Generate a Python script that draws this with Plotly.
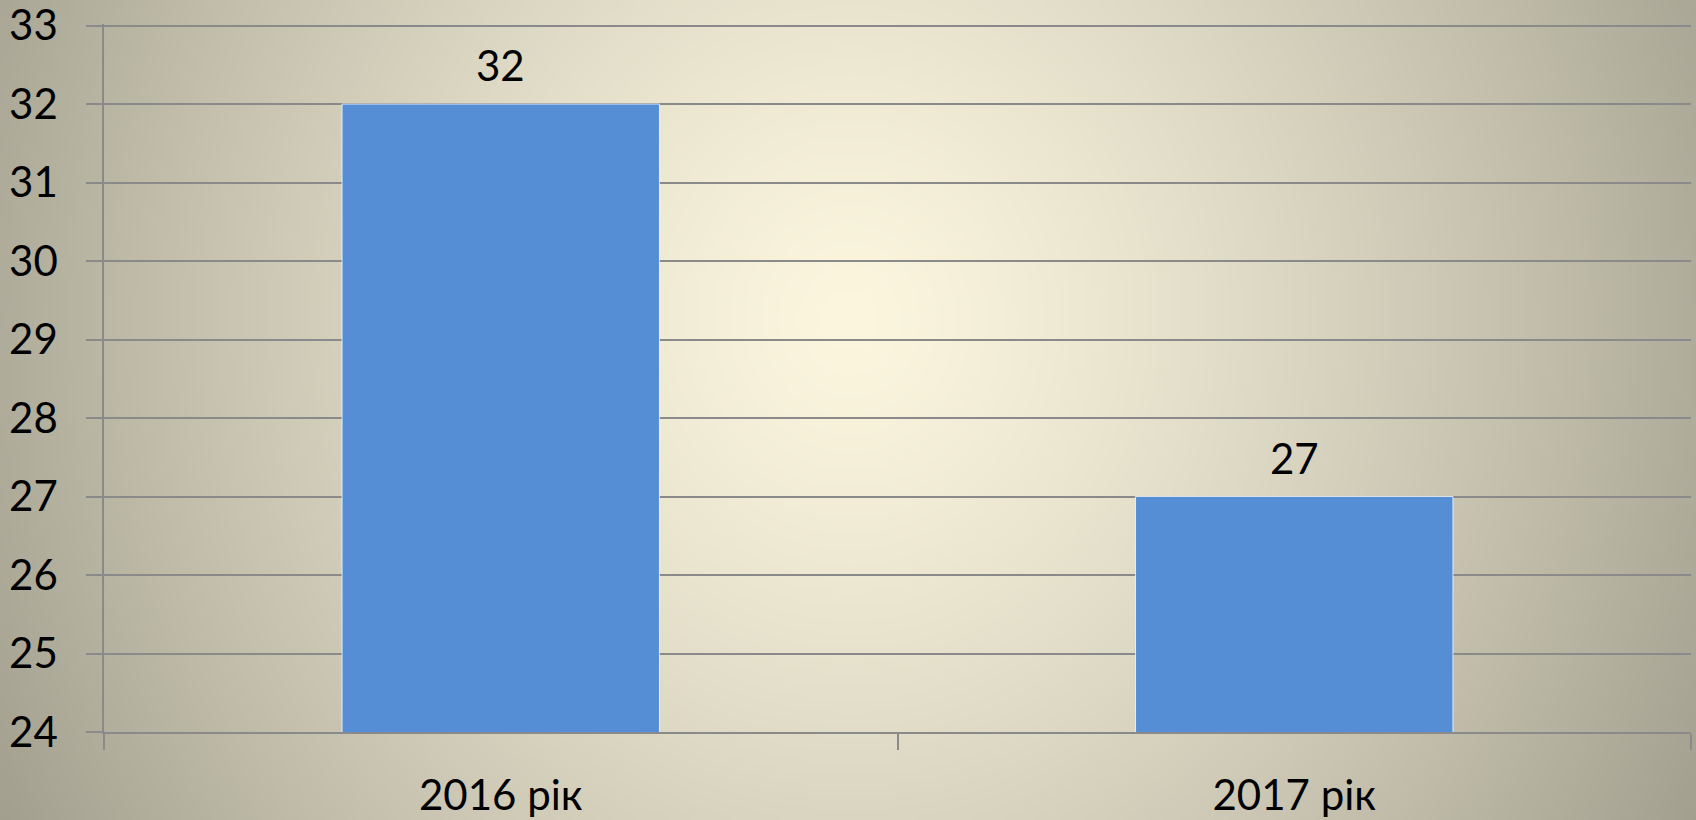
import base64, struct, zlib
import numpy as np
import plotly.graph_objects as go

# ---- data ----
categories = ["2016 рік", "2017 рік"]
values = [32, 27]
y_ticks = [24, 25, 26, 27, 28, 29, 30, 31, 32, 33]

W, H = 1696, 820

# ---- background radial gradient (decorative) ----
def make_png(arr):
    h, w, _ = arr.shape
    raw = b"".join(b"\x00" + arr[i].tobytes() for i in range(h))
    def chunk(tag, data):
        c = struct.pack(">I", len(data)) + tag + data
        return c + struct.pack(">I", zlib.crc32(tag + data) & 0xffffffff)
    png = b"\x89PNG\r\n\x1a\n"
    png += chunk(b"IHDR", struct.pack(">IIBBBBB", w, h, 8, 2, 0, 0, 0))
    png += chunk(b"IDAT", zlib.compress(raw, 9))
    png += chunk(b"IEND", b"")
    return "data:image/png;base64," + base64.b64encode(png).decode()

gw, gh = W // 4, H // 4
xs = (np.arange(gw) + 0.5) * 4
ys = (np.arange(gh) + 0.5) * 4
X, Y = np.meshgrid(xs, ys)
r = np.sqrt(((X - 850) / 1000) ** 2 + ((Y - 320) / 1100) ** 2)
t = np.clip(r, 0, 1) ** 1.3
c0 = np.array([252, 246, 223], dtype=float)
c1 = np.array([158, 155, 139], dtype=float)
img = (c0[None, None, :] * (1 - t[..., None]) + c1[None, None, :] * t[..., None])
img = np.clip(img, 0, 255).astype(np.uint8)
bg_uri = make_png(img)

FONT = "Lato"
GRID = "#8a8a8a"
L, R, T, B = 104, 5, 24, 88

fig = go.Figure()
fig.add_trace(go.Bar(
    x=categories, y=values,
    marker=dict(color="#558ED5", line=dict(color="rgba(255,255,255,0.75)", width=1)),
    width=0.4,
    hoverinfo="skip",
))

annotations = [
    dict(x=c, y=v, xref="x", yref="y", text=str(v), showarrow=False,
         yanchor="bottom", yshift=12, font=dict(family=FONT, size=42, color="#000000"))
    for c, v in zip(categories, values)
]

pw, ph = W - L - R, H - T - B
fig.update_layout(
    width=W, height=H,
    margin=dict(l=L, r=R, t=T, b=B, autoexpand=False),
    paper_bgcolor="rgba(0,0,0,0)",
    plot_bgcolor="rgba(0,0,0,0)",
    showlegend=False,
    font=dict(family=FONT, size=42, color="#000000"),
    annotations=annotations,
    images=[dict(source=bg_uri, xref="paper", yref="paper", x=-L / pw, y=1 + T / ph,
                 sizex=W / pw, sizey=H / ph, xanchor="left", yanchor="top",
                 sizing="stretch", layer="below")],
    xaxis=dict(
        type="category", tickson="boundaries", ticks="outside", ticklen=16, tickwidth=1.5,
        tickcolor=GRID, showline=True, linecolor=GRID, linewidth=1.5, showgrid=False,
        ticklabelstandoff=26, tickfont=dict(family=FONT, size=42, color="#000000"),
        zeroline=False, automargin=False,
    ),
    yaxis=dict(
        range=[24, 33.02], tickvals=y_ticks, ticks="outside", ticklen=16, tickwidth=1.5,
        tickcolor=GRID, showline=True, linecolor=GRID, linewidth=1.5,
        showgrid=True, gridcolor=GRID, gridwidth=1.5, zeroline=False,
        ticklabelstandoff=20, ticklabeloverflow="allow",
        tickfont=dict(family=FONT, size=42, color="#000000"),
        automargin=False,
    ),
    bargap=0.6,
)

fig.write_html(
    "out.html",
    config={"displayModeBar": False},
    post_script="document.body.style.margin='0';document.body.style.overflow='hidden';document.body.style.background='#a09d8c';",
)
